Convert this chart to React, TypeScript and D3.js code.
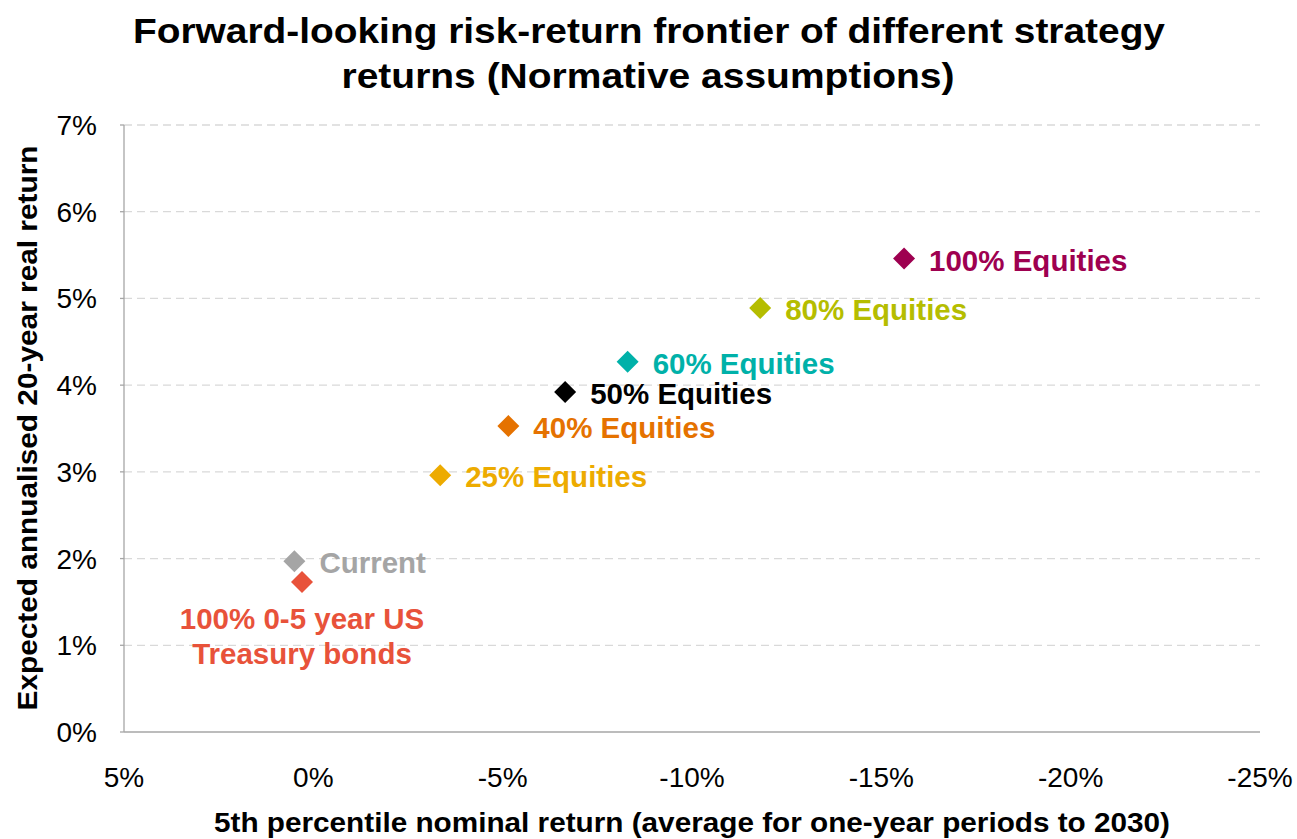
import React from "react";
import * as d3 from "d3";

const labels = [
  "Current",
  "100% 0-5 year US|Treasury bonds",
  "25% Equities",
  "40% Equities",
  "50% Equities",
  "60% Equities",
  "80% Equities",
  "100% Equities",
];
const riskValues = [0.5, 0.3, -3.35, -5.15, -6.65, -8.3, -11.8, -15.6];
const returnValues = [1.97, 1.73, 2.96, 3.53, 3.92, 4.27, 4.89, 5.46];
const colors = ["#A5A5A5", "#E8523A", "#EDAB00", "#E57200", "#000000", "#00B1A9", "#B5BD00", "#9E0050"];

const xTicks = [5, 0, -5, -10, -15, -20, -25];
const yTicks = [0, 1, 2, 3, 4, 5, 6, 7];

const FONT = "'Liberation Sans', Arial, Helvetica, sans-serif";

export default function App() {
  const x = d3.scaleLinear().domain([5, -25]).range([124, 1260]);
  const y = d3.scaleLinear().domain([0, 7]).range([732, 125]);
  const dPath = (cx: number, cy: number, r: number) =>
    `M${cx},${cy - r}L${cx + r},${cy}L${cx},${cy + r}L${cx - r},${cy}Z`;

  return (
    <svg width={1297} height={839} style={{ position: "absolute", left: 0, top: 0, background: "#fff" }} fontFamily={FONT}>
      {/* title */}
      <text x={649} y={43} textAnchor="middle" fontSize={35} fontWeight="bold" textLength={1032} lengthAdjust="spacingAndGlyphs">
        Forward-looking risk-return frontier of different strategy
      </text>
      <text x={648} y={88} textAnchor="middle" fontSize={35} fontWeight="bold" textLength={613} lengthAdjust="spacingAndGlyphs">
        returns (Normative assumptions)
      </text>

      {/* gridlines */}
      {yTicks.filter((t) => t > 0).map((t) => (
        <line key={t} x1={x(5)} x2={x(-25)} y1={y(t)} y2={y(t)} stroke="#D9D9D9" strokeWidth={1.3} strokeDasharray="8,5" />
      ))}

      {/* axes */}
      <line x1={x(5)} x2={x(5)} y1={y(7)} y2={y(0)} stroke="#A6A6A6" strokeWidth={1.3} />
      <line x1={x(5)} x2={x(-25)} y1={y(0)} y2={y(0)} stroke="#A6A6A6" strokeWidth={1.3} />
      {yTicks.map((t) => (
        <line key={t} x1={x(5) - 4} x2={x(5)} y1={y(t)} y2={y(t)} stroke="#A6A6A6" strokeWidth={1.3} />
      ))}

      {/* y tick labels */}
      {yTicks.map((t) => (
        <text key={t} x={97} y={y(t) + 10} textAnchor="end" fontSize={28} fill="#000">
          {`${t}%`}
        </text>
      ))}
      {/* x tick labels */}
      {xTicks.map((t) => (
        <text key={t} x={x(t)} y={787} textAnchor="middle" fontSize={28} fill="#000">
          {`${t}%`}
        </text>
      ))}

      {/* axis titles */}
      <text x={692} y={832} textAnchor="middle" fontSize={28} fontWeight="bold" textLength={956} lengthAdjust="spacingAndGlyphs">
        5th percentile nominal return (average for one-year periods to 2030)
      </text>
      <text transform="translate(37,428) rotate(-90)" textAnchor="middle" fontSize={28} fontWeight="bold" textLength={565} lengthAdjust="spacingAndGlyphs">
        Expected annualised 20-year real return
      </text>

      {/* points */}
      {labels.map((l, i) => (
        <path key={l} d={dPath(x(riskValues[i]), y(returnValues[i]), 11)} fill={colors[i]} />
      ))}

      {/* labels */}
      {labels.map((l, i) => {
        const cx = x(riskValues[i]);
        const cy = y(returnValues[i]);
        if (l.includes("|")) {
          const parts = l.split("|");
          return (
            <text key={l} textAnchor="middle" fontSize={29.5} fontWeight="bold" fill={colors[i]}>
              <tspan x={cx} y={cy + 47}>{parts[0]}</tspan>
              <tspan x={cx} y={cy + 82}>{parts[1]}</tspan>
            </text>
          );
        }
        return (
          <text key={l} x={cx + 25} y={cy + 12} fontSize={29.5} fontWeight="bold" fill={colors[i]}>
            {l}
          </text>
        );
      })}
    </svg>
  );
}
